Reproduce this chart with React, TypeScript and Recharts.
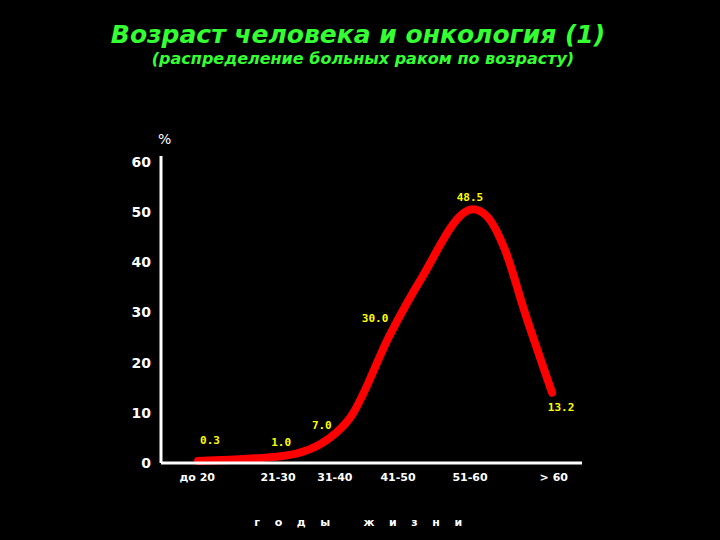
import { LineChart, Line, XAxis, YAxis } from "recharts";

// x axis age groups and where they sit on the 0..100 horizontal scale
const categories = ["до 20", "21-30", "31-40", "41-50", "51-60", "> 60"];
const categoryPos = [8.6, 27.8, 41.3, 56.3, 73.4, 93.3];

// red curve
const curveX = [8.8, 29.0, 40.1, 44.9, 54.4, 61.5, 74.1, 77.4, 81.7, 86.5, 92.9];
const curveY = [0.4, 1.4, 5.0, 9.0, 25.6, 36.3, 50.6, 49.2, 42.5, 29.8, 14.0];

// printed values and the curve points they belong to
const labelIndex = [0, 1, 2, 4, 6, 10];
const labelText = ["0.3", "1.0", "7.0", "30.0", "48.5", "13.2"];

const yTicks = [0, 10, 20, 30, 40, 50, 60];

// label nudges (px) relative to their point
const labelOffsets: Record<number, [number, number]> = {
  0: [12, -20],
  1: [-2, -13],
  2: [-8, -12],
  4: [-15, -16],
  6: [-3, -12],
  10: [9, 15],
};

const data = curveX.map((x, i) => {
  const k = labelIndex.indexOf(i);
  return { x, pct: curveY[i], label: k >= 0 ? labelText[k] : null };
});

const font = "'DejaVu Sans', Verdana, sans-serif";

const ValueLabel = (props: any) => {
  const { x, y, index } = props;
  const item = data[index];
  if (!item || !item.label) return <g />;
  const [dx, dy] = labelOffsets[index];
  return (
    <text
      x={x + dx}
      y={y + dy}
      textAnchor="middle"
      dominantBaseline="central"
      fill="#ffff00"
      fontFamily="'DejaVu Sans Mono', monospace"
      fontWeight="bold"
      fontSize={11}
    >
      {item.label}
    </text>
  );
};

export default function App() {
  return (
    <div style={{ position: "relative", width: 720, height: 540, background: "#000", fontFamily: font }}>
      <style>{`body{margin:0;background:#000}`}</style>
      <div
        style={{
          position: "absolute",
          top: 20,
          left: 0,
          width: 716,
          textAlign: "center",
          color: "#33ff33",
          fontSize: 25,
          lineHeight: "30px",
          fontWeight: "bold",
          fontStyle: "italic",
        }}
      >
        Возраст человека и онкология (1)
      </div>
      <div
        style={{
          position: "absolute",
          top: 49,
          left: 0,
          width: 726,
          textAlign: "center",
          color: "#33ff33",
          fontSize: 16,
          lineHeight: "20px",
          fontWeight: "bold",
          fontStyle: "italic",
        }}
      >
        (распределение больных раком по возрасту)
      </div>
      <div
        style={{
          position: "absolute",
          top: 130,
          left: 158,
          color: "#fff",
          fontSize: 14,
          lineHeight: "18px",
        }}
      >
        %
      </div>
      <div
        style={{
          position: "absolute",
          top: 515,
          left: 0,
          width: 722,
          textAlign: "center",
          color: "#fff",
          fontSize: 11,
          lineHeight: "16px",
          fontWeight: "bold",
          letterSpacing: 5.4,
          whiteSpace: "pre",
        }}
      >
        {"г о д ы   ж и з н и"}
      </div>
      <LineChart
        width={720}
        height={540}
        data={data}
        margin={{ top: 156, right: 138, left: 101, bottom: 47 }}
        style={{ position: "absolute", top: 0, left: 0 }}
      >
        <XAxis
          dataKey="x"
          type="number"
          domain={[0, 100]}
          ticks={categoryPos}
          interval={0}
          tickFormatter={(v: number) => categories[categoryPos.indexOf(v)] ?? ""}
          height={30}
          tickLine={false}
          tickSize={0}
          tickMargin={10}
          axisLine={{ stroke: "#fff", strokeWidth: 3 }}
          tick={{ fill: "#fff", fontSize: 11, fontWeight: "bold", fontFamily: font }}
        />
        <YAxis
          type="number"
          domain={[0, 61.2]}
          ticks={yTicks}
          interval={0}
          width={60}
          tickLine={false}
          tickSize={0}
          tickMargin={10}
          axisLine={{ stroke: "#fff", strokeWidth: 3 }}
          tick={{ fill: "#fff", fontSize: 14, fontWeight: "bold", fontFamily: font }}
        />
        <Line
          type="monotone"
          dataKey="pct"
          stroke="#ff0000"
          strokeWidth={8}
          strokeLinejoin="round"
          strokeLinecap="round"
          dot={false}
          activeDot={false}
          label={<ValueLabel />}
          isAnimationActive={false}
        />
      </LineChart>
    </div>
  );
}
